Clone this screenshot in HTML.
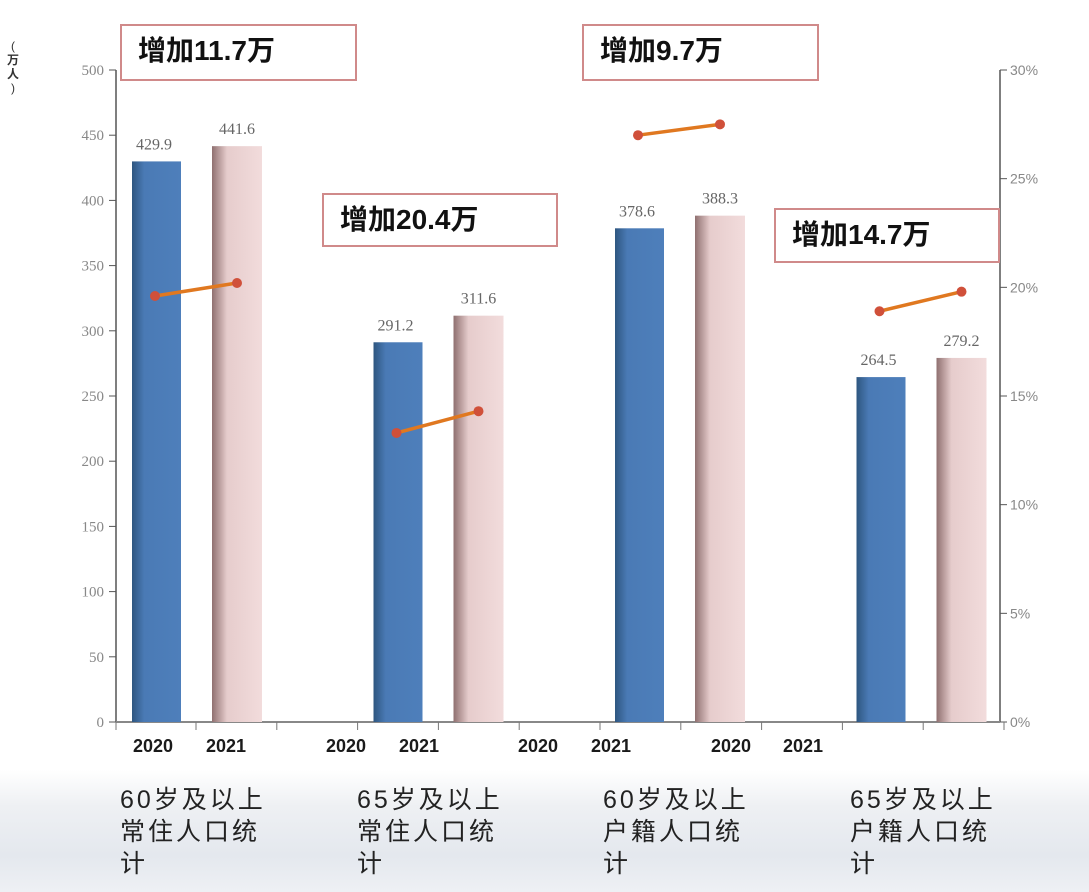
<!DOCTYPE html>
<html><head><meta charset="utf-8">
<style>
html,body{margin:0;padding:0;}
body{width:1089px;height:892px;overflow:hidden;position:relative;background:#fff;font-family:"Liberation Sans","Noto Sans CJK SC",sans-serif;}
#bg{position:absolute;left:0;top:770px;width:1089px;height:122px;background:linear-gradient(180deg,#fff 0%,#eef0f3 30%,#e4e8ee 70%,#eef0f4 100%);}
.box{position:absolute;border:2px solid #d08a8a;background:#fff;font-weight:bold;font-size:28px;color:#111;box-sizing:border-box;padding-left:16px;line-height:50px;}
.cat{position:absolute;font-size:25px;line-height:32px;color:#222;letter-spacing:3px;white-space:nowrap;}
svg{position:absolute;left:0;top:0;}
</style></head><body>
<div id="bg"></div>
<svg id="chart" width="1089" height="892">
<defs>
<linearGradient id="gb" x1="0" x2="1"><stop offset="0" stop-color="#2e5680"/><stop offset="0.25" stop-color="#4a7ab5"/><stop offset="1" stop-color="#4e7fbb"/></linearGradient>
<linearGradient id="gp" x1="0" x2="1"><stop offset="0" stop-color="#8f7070"/><stop offset="0.3" stop-color="#e6cccc"/><stop offset="1" stop-color="#f2dcdc"/></linearGradient>
</defs>
</svg>
<div class="box" style="left:120px;top:24px;width:237px;height:57px">增加11.7万</div>
<div class="box" style="left:322px;top:193px;width:236px;height:54px">增加20.4万</div>
<div class="box" style="left:582px;top:24px;width:237px;height:57px">增加9.7万</div>
<div class="box" style="left:774px;top:208px;width:226px;height:55px">增加14.7万</div>
<div class="cat" style="left:120px;top:784px">60岁及以上<br>常住人口统<br>计</div>
<div class="cat" style="left:357px;top:784px">65岁及以上<br>常住人口统<br>计</div>
<div class="cat" style="left:603px;top:784px">60岁及以上<br>户籍人口统<br>计</div>
<div class="cat" style="left:850px;top:784px">65岁及以上<br>户籍人口统<br>计</div>
<script>
const categories = ["60岁及以上常住人口统计","65岁及以上常住人口统计","60岁及以上户籍人口统计","65岁及以上户籍人口统计"];
const values2020 = [429.9, 291.2, 378.6, 264.5];
const values2021 = [441.6, 311.6, 388.3, 279.2];
const pct2020 = [19.6, 13.3, 27.0, 18.9];
const pct2021 = [20.2, 14.3, 27.5, 19.8];
const leftTicks = [0,50,100,150,200,250,300,350,400,450,500];
const rightTicks = [0,5,10,15,20,25,30];
const yearLabels = ["2020","2021","2020","2021","2020","2021","2020","2021"];

const NS="http://www.w3.org/2000/svg";
const svg=document.getElementById('chart');
const X0=116, X1=1000, Y0=722, Y1=70;
const yL=v=>Y0-(v/500)*(Y0-Y1);
const yR=p=>Y0-(p/30)*(Y0-Y1);
const groupX=i=>132+i*241.5;
function mk(t,a){const e=document.createElementNS(NS,t);for(const k in a)e.setAttribute(k,a[k]);svg.appendChild(e);return e;}
function txt(x,y,s,a){const e=mk('text',Object.assign({x:x,y:y},a));e.textContent=s;return e;}

let e;
e=mk('line',{x1:X0,y1:Y1,x2:X0,y2:Y0,stroke:'#555','stroke-width':1.5});


e=mk('line',{x1:X1,y1:Y1,x2:X1,y2:Y0,stroke:'#555','stroke-width':1.5});


e=mk('line',{x1:X0,y1:Y0,x2:X1,y2:Y0,stroke:'#888','stroke-width':2});



leftTicks.forEach(v=>{
  mk('line',{x1:X0-7,y1:yL(v),x2:X0,y2:yL(v),stroke:'#555'});
  e=txt(X0-12,yL(v)+5,String(v),{'text-anchor':'end','font-family':'Liberation Serif, serif','font-size':15,fill:'#888'});
  
  
});
rightTicks.forEach(p=>{
  mk('line',{x1:X1,y1:yR(p),x2:X1+7,y2:yR(p),stroke:'#555'});
  e=txt(X1+10,yR(p)+5,p+'%',{'font-family':'Liberation Sans, sans-serif','font-size':14,fill:'#888'});
  
  
});
for(let k=0;k<11;k++){ const x=196+k*80.8; mk('line',{x1:x,y1:Y0,x2:x,y2:Y0+8,stroke:'#777'}); }
mk('line',{x1:X0,y1:Y0,x2:X0,y2:Y0+8,stroke:'#777'});

const yearX=[153,226,346,419,538,611,731,803];
yearLabels.forEach((s,i)=>{
  e=txt(yearX[i],752,s,{'text-anchor':'middle','font-weight':'bold','font-size':18,fill:'#1a1a1a'});
  
  
});

txt(13,50,'(',{'font-size':12,fill:'#333','text-anchor':'middle'});
e=txt(13,64,'万',{'font-size':12,fill:'#333','font-weight':'bold','text-anchor':'middle'});


txt(13,78,'人',{'font-size':12,fill:'#333','font-weight':'bold','text-anchor':'middle'});
txt(13,92,')',{'font-size':12,fill:'#333','text-anchor':'middle'});

categories.forEach((c,i)=>{
  const gx=groupX(i);
  e=mk('rect',{x:gx,y:yL(values2020[i]),width:49,height:Y0-yL(values2020[i]),fill:'url(#gb)'});
  
  
  e=mk('rect',{x:gx+80,y:yL(values2021[i]),width:50,height:Y0-yL(values2021[i]),fill:'url(#gp)'});
  
  
  e=txt(gx+22,yL(values2020[i])-12,values2020[i].toFixed(1),{'text-anchor':'middle','font-family':'Liberation Serif, serif','font-size':16,fill:'#666'});
  
  
  e=txt(gx+105,yL(values2021[i])-12,values2021[i].toFixed(1),{'text-anchor':'middle','font-family':'Liberation Serif, serif','font-size':16,fill:'#666'});
  
  
  const xa=gx+23, xb=gx+105;
  e=mk('line',{x1:xa,y1:yR(pct2020[i]),x2:xb,y2:yR(pct2021[i]),stroke:'#e07820','stroke-width':3.5});
  
  
  e=mk('circle',{cx:xa,cy:yR(pct2020[i]),r:5,fill:'#d0503a'});
  
  
  e=mk('circle',{cx:xb,cy:yR(pct2021[i]),r:5,fill:'#d0503a'});
  
  
});
</script>
</body></html>
